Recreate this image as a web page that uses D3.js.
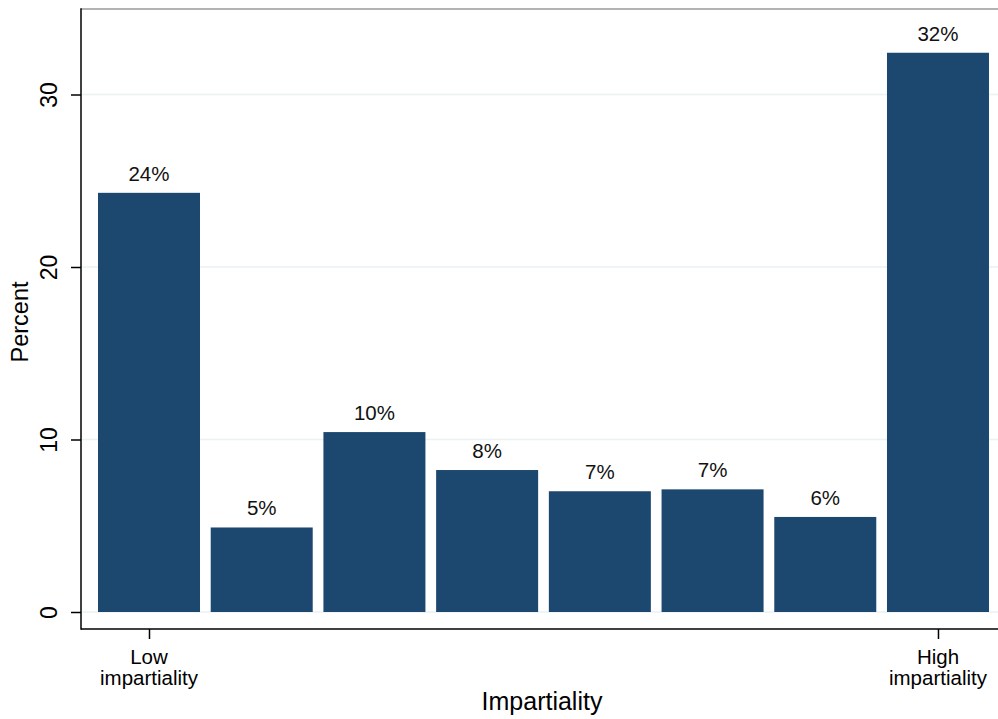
<!DOCTYPE html>
<html>
<head>
<meta charset="utf-8">
<script src="https://cdn.jsdelivr.net/npm/d3@7"></script>
<style>
  html, body { margin: 0; padding: 0; background: #fff; }
  svg { display: block; font-family: "Liberation Sans", Arial, sans-serif; }
</style>
</head>
<body>
<svg id="chart" width="998" height="719"></svg>
<script>
// Data
const categories = [1, 2, 3, 4, 5, 6, 7, 8];
const percents = [24.3, 4.9, 10.43, 8.23, 7.0, 7.11, 5.51, 32.42];
const barLabels = ["24%", "5%", "10%", "8%", "7%", "7%", "6%", "32%"];
const yTicks = [0, 10, 20, 30];
const xTickValues = [1, 8];
const xTickLabels = [["Low", "impartiality"], ["High", "impartiality"]];

(function () {
const svg = d3.select("#chart");
const mLeft = 81, mRight = 998, mTop = 9, mBottom = 629;

const x = d3.scaleLinear().domain([0.3967, 8.5325]).range([mLeft, mRight]);
const y = d3.scaleLinear().domain([0, 30]).range([612, 94.5]);
const barW = 102;

// top border
svg.append("line").attr("x1", mLeft).attr("x2", mRight).attr("y1", mTop).attr("y2", mTop)
  .attr("stroke", "#9a9a9a").attr("stroke-width", 1.5);

// gridlines
svg.append("g").selectAll("line").data(yTicks).join("line")
  .attr("x1", mLeft + 1).attr("x2", mRight)
  .attr("y1", d => y(d)).attr("y2", d => y(d))
  .attr("stroke", "#eaf2f3").attr("stroke-width", 1.5);

// bars
svg.append("g").selectAll("rect").data(categories).join("rect")
  .attr("x", (d) => x(d) - barW / 2)
  .attr("width", barW)
  .attr("y", (d, i) => y(percents[i]))
  .attr("height", (d, i) => y(0) - y(percents[i]))
  .attr("fill", "#1c476f");

// bar labels
svg.append("g").selectAll("text").data(categories).join("text")
  .attr("x", d => x(d))
  .attr("y", (d, i) => y(percents[i]) - 12)
  .attr("text-anchor", "middle")
  .attr("font-size", 20.5)
  .attr("fill", "#111")
  .text((d, i) => barLabels[i]);

// y axis
const yAxis = d3.axisLeft(y).tickValues(yTicks).tickSize(10).tickPadding(0).tickFormat(d3.format("d"));
const gy = svg.append("g").attr("transform", `translate(${mLeft},0)`).call(yAxis);
gy.select(".domain").remove();
gy.selectAll(".tick line").attr("stroke", "#000").attr("stroke-width", 1.5);
gy.selectAll(".tick text")
  .attr("x", 0)
  .attr("dy", 0)
  .attr("transform", "translate(-24.5,0) rotate(-90)")
  .attr("text-anchor", "middle")
  .attr("font-size", 23)
  .attr("font-family", "Liberation Sans, Arial, sans-serif")
  .attr("fill", "#000");
svg.append("line").attr("x1", mLeft).attr("x2", mLeft).attr("y1", mTop - 0.75).attr("y2", mBottom + 0.75)
  .attr("stroke", "#000").attr("stroke-width", 1.5);

// x axis
const xAxis = d3.axisBottom(x).tickValues(xTickValues).tickSize(10).tickFormat("");
const gx = svg.append("g").attr("transform", `translate(0,${mBottom})`).call(xAxis);
gx.select(".domain").remove();
gx.selectAll(".tick line").attr("stroke", "#000").attr("stroke-width", 1.5);
svg.append("line").attr("x1", mLeft).attr("x2", mRight).attr("y1", mBottom).attr("y2", mBottom)
  .attr("stroke", "#000").attr("stroke-width", 1.5);

const xl = svg.append("g").selectAll("text").data(xTickValues).join("text")
  .attr("text-anchor", "middle")
  .attr("font-size", 20.5)
  .attr("fill", "#000");
xl.each(function(d, i) {
  const t = d3.select(this);
  xTickLabels[i].forEach((line, j) => {
    t.append("tspan").attr("x", x(d)).attr("y", 664 + j * 21).text(line);
  });
});

// axis titles
svg.append("text")
  .attr("transform", `translate(28,${(mTop + mBottom) / 2 + 3}) rotate(-90)`)
  .attr("text-anchor", "middle")
  .attr("font-size", 23.5)
  .attr("fill", "#000")
  .text("Percent");

svg.append("text")
  .attr("x", 542).attr("y", 710)
  .attr("text-anchor", "middle")
  .attr("font-size", 25)
  .attr("fill", "#000")
  .text("Impartiality");
})();
</script>
</body>
</html>
